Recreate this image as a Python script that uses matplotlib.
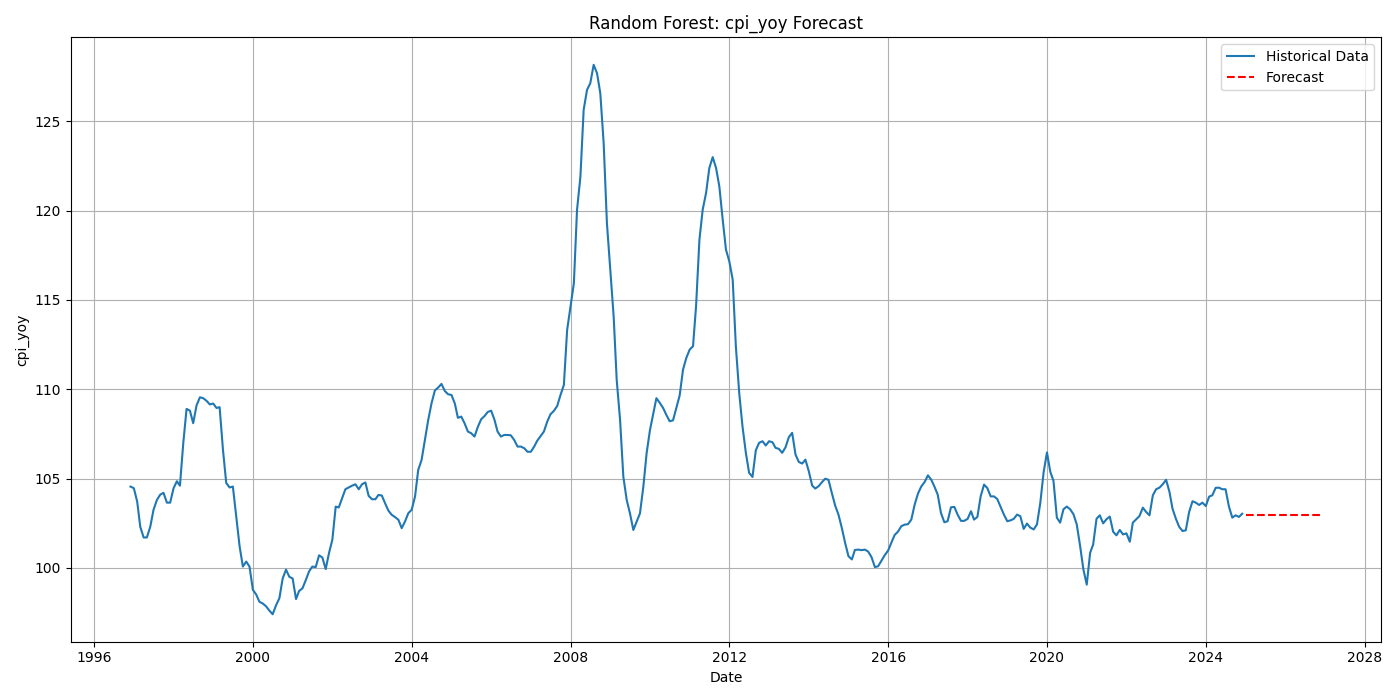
import matplotlib
matplotlib.use('Agg')
import matplotlib.pyplot as plt
import pandas as pd

# monthly history, 1996-12 .. 2024-12
hist_start = '1996-12-01'
hist_values = [
    104.55, 104.46, 103.7, 102.3, 101.7, 101.7, 102.3, 103.25, 103.8, 104.1,
    104.2, 103.65, 103.65, 104.45, 104.85, 104.6, 107.0, 108.9, 108.8, 108.1,
    109.1, 109.55, 109.5, 109.35, 109.15, 109.2, 108.95, 109.0, 106.6, 104.75,
    104.5, 104.55, 102.9, 101.2, 100.07, 100.35, 100.07, 98.77, 98.5, 98.1,
    98.0, 97.85, 97.6, 97.4, 97.9, 98.3, 99.4, 99.9, 99.5, 99.4,
    98.25, 98.7, 98.85, 99.3, 99.8, 100.07, 100.04, 100.7, 100.58, 99.93,
    100.82, 101.57, 103.43, 103.38, 103.9, 104.4, 104.5, 104.6, 104.68, 104.4,
    104.68, 104.78, 104.03, 103.84, 103.84, 104.08, 104.05, 103.62, 103.2, 102.97,
    102.84, 102.69, 102.22, 102.6, 103.06, 103.25, 104.0, 105.48, 106.04, 107.16,
    108.28, 109.2, 109.93, 110.1, 110.3, 109.9, 109.72, 109.68, 109.2, 108.4,
    108.47, 108.1, 107.63, 107.54, 107.35, 107.9, 108.32, 108.5, 108.73, 108.8,
    108.28, 107.63, 107.35, 107.44, 107.44, 107.42, 107.16, 106.79, 106.79, 106.7,
    106.5, 106.5, 106.79, 107.12, 107.38, 107.63, 108.19, 108.6, 108.79, 109.07,
    109.68, 110.24, 113.32, 114.63, 115.94, 120.05, 121.9, 125.65, 126.77, 127.14,
    128.17, 127.7, 126.58, 123.78, 119.3, 116.69, 114.07, 110.52, 108.28, 105.1,
    103.8, 103.05, 102.12, 102.59, 103.05, 104.55, 106.41, 107.72, 108.66, 109.5,
    109.24, 108.96, 108.56, 108.21, 108.26, 108.96, 109.65, 111.1, 111.75, 112.22,
    112.41, 114.65, 118.38, 120.06, 120.99, 122.39, 123.0, 122.39, 121.36, 119.5,
    117.82, 117.16, 116.14, 112.41, 109.79, 107.93, 106.44, 105.32, 105.09, 106.59,
    107.0, 107.09, 106.85, 107.09, 107.03, 106.72, 106.66, 106.44, 106.75, 107.31,
    107.56, 106.34, 105.93, 105.84, 106.06, 105.41, 104.61, 104.44, 104.57, 104.79,
    104.99, 104.93, 104.19, 103.48, 102.98, 102.23, 101.4, 100.65, 100.47, 101.0,
    101.02, 100.99, 101.02, 100.91, 100.6, 100.04, 100.09, 100.41, 100.71, 100.97,
    101.43, 101.84, 102.03, 102.33, 102.42, 102.44, 102.7, 103.54, 104.15, 104.56,
    104.8, 105.18, 104.93, 104.56, 104.1, 103.07, 102.55, 102.61, 103.39, 103.41,
    102.98, 102.63, 102.63, 102.74, 103.17, 102.7, 102.85, 104.0, 104.66, 104.47,
    104.0, 104.0, 103.85, 103.41, 102.98, 102.61, 102.66, 102.74, 102.98, 102.89,
    102.18, 102.48, 102.25, 102.15, 102.43, 103.65, 105.34, 106.46, 105.37, 104.87,
    102.81, 102.53, 103.28, 103.43, 103.28, 103.0, 102.43, 101.22, 99.91, 99.06,
    100.84, 101.31, 102.75, 102.94, 102.49, 102.72, 102.87, 102.02, 101.82, 102.12,
    101.87, 101.93, 101.46, 102.53, 102.72, 102.9, 103.37, 103.13, 102.94, 104.06,
    104.4, 104.49, 104.68, 104.93, 104.25, 103.31, 102.75, 102.3, 102.06, 102.1,
    103.13, 103.73, 103.65, 103.52, 103.65, 103.46, 103.99, 104.06, 104.48, 104.49,
    104.4, 104.4, 103.43, 102.81, 102.94, 102.85, 103.03,
]

# forecast, 2025-01 .. 2026-12
fc_start = '2025-01-01'
fc_values = [102.98] * 24

hist_dates = pd.date_range(hist_start, periods=len(hist_values), freq='MS')
fc_dates = pd.date_range(fc_start, periods=len(fc_values), freq='MS')

plt.figure(figsize=(14, 7), dpi=100)
plt.plot(hist_dates, hist_values, label='Historical Data')
plt.plot(fc_dates, fc_values, 'r--', label='Forecast')
plt.title('Random Forest: cpi_yoy Forecast')
plt.xlabel('Date')
plt.ylabel('cpi_yoy')
plt.legend()
plt.grid(True)
plt.tight_layout()
plt.savefig('out.png')
